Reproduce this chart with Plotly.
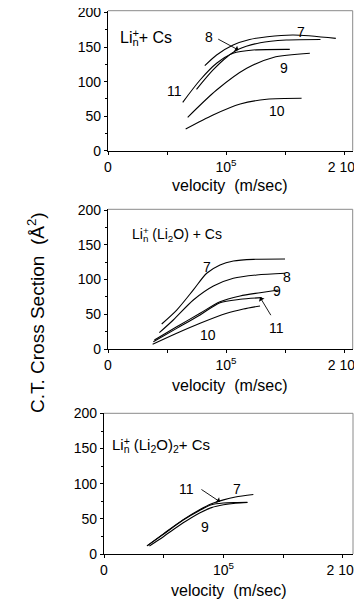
import plotly.graph_objects as go

FONT = "Liberation Sans, Arial, sans-serif"

# ---------------- data (velocity in units of 1e5 m/s, cross section in A^2)
p1 = {
    "7":  ([0.82, 0.92, 1.06, 1.20, 1.35, 1.57, 1.93], [123, 138.5, 153, 161, 165, 167.4, 162.6]),
    "8":  ([0.75, 0.89, 1.01, 1.105, 1.29, 1.51, 1.80], [88.8, 116.8, 136, 146.7, 156.3, 160.2, 161]),
    "11": ([0.633, 0.78, 0.92, 1.06, 1.23, 1.54], [70, 102.3, 126.5, 141, 145.7, 146.7]),
    "9":  ([0.675, 0.92, 1.175, 1.40, 1.71], [48.3, 87.8, 119.2, 135, 141]),
    "10": ([0.658, 0.89, 1.12, 1.345, 1.64], [31.4, 51.7, 67.6, 74.4, 75.8]),
}
p2 = {
    "7":  ([0.455, 0.582, 0.723, 0.836, 0.949, 1.062, 1.232, 1.5], [36, 56, 85, 109, 121, 126.6, 129, 129.5]),
    "8":  ([0.435, 0.553, 0.723, 0.893, 1.062, 1.26, 1.5], [23.5, 41.7, 70.5, 90.6, 101.7, 106.5, 108.9]),
    "9":  ([0.393, 0.582, 0.78, 0.949, 1.119, 1.288, 1.443], [13, 32, 51.4, 68, 76.3, 81, 85]),
    "11": ([0.384, 0.582, 0.78, 0.949, 1.119, 1.302], [10.5, 29.7, 49, 66.7, 71.5, 73.9]),
    "10": ([0.378, 0.582, 0.78, 1.006, 1.147, 1.288], [6.7, 22.6, 37, 51.4, 57.5, 61.9]),
}
p3 = {
    "7":  ([0.36, 0.5, 0.66, 0.8, 0.9, 1.0, 1.1, 1.25], [11.5, 29, 48.5, 63, 71.5, 77, 81, 84.6]),
    "11": ([0.36, 0.5, 0.66, 0.8, 0.9, 1.0, 1.1, 1.2], [11.5, 28.5, 48, 62, 70, 72.5, 73.2, 73.5]),
    "9":  ([0.38, 0.5, 0.66, 0.8, 0.9, 1.0, 1.1, 1.2], [11.5, 25, 44, 58.5, 66, 70, 72.3, 73.3]),
}

# curve labels: (text, v, y)
lab1 = [("7", 1.636, 172), ("8", 0.856, 164), ("11", 0.562, 87), ("9", 1.494, 119), ("10", 1.43, 57.5)]
lab2 = [("7", 0.836, 118), ("8", 1.514, 103), ("9", 1.435, 84), ("11", 1.43, 30.7), ("10", 0.85, 20)]
lab3 = [("11", 0.69, 93), ("7", 1.11, 93), ("9", 0.845, 38.7)]
# arrows: (tail v, tail y, tip v, tip y)
arr1 = [(0.921, 162.6, 1.105, 145.7)]
arr2 = [(1.387, 46.5, 1.288, 74.4)]
arr3 = [(0.803, 93.2, 0.971, 74.2)]

x_tickvals = [0, 0.5e5, 1e5, 1.5e5, 2e5]
x_ticktext = ["0", "", "10<sup>5</sup>", "", "2 10<sup>5</sup>"]
y_tickvals = [0, 50, 100, 150, 200]

titles = [
    ("Li<sub>n</sub>+ Cs", 0.085e5, 163, 16),
    ("Li<sub>n</sub> (Li<sub>2</sub>O) + Cs", 0.186e5, 164, 14),
    ("Li<sub>n</sub> (Li<sub>2</sub>O)<sub>2</sub>+ Cs", 0.05e5, 154.6, 15),
]

# page body has an 8px margin: figure occupies window pixels 8..362 x 8..612
OFF = 8
W, H = 362 - OFF, 612 - OFF


def px(x):
    return (x - OFF) / W


def py(y):
    return 1 - (y - OFF) / H


panels = [
    dict(data=p1, labs=lab1, arrs=arr1, xdom=[px(108), px(352.7)], xmax=2.073e5,
         ydom=[py(150.7), py(10.7)], ymax=202.6, title_y=py(185)),
    dict(data=p2, labs=lab2, arrs=arr2, xdom=[px(108), px(352.7)], xmax=2.073e5,
         ydom=[py(349), py(209.3)], ymax=201, title_y=py(385)),
    dict(data=p3, labs=lab3, arrs=arr3, xdom=[px(104), px(353)], xmax=2.084e5,
         ydom=[py(554), py(413.3)], ymax=200.2, title_y=py(590)),
]

fig = go.Figure()
annotations = []
shapes = []
layout = {}

for i, p in enumerate(panels):
    n = i + 1
    xa = "x" if n == 1 else f"x{n}"
    ya = "y" if n == 1 else f"y{n}"
    for name, (v, y) in p["data"].items():
        fig.add_trace(go.Scatter(
            x=[a * 1e5 for a in v], y=y, mode="lines", name=name,
            line=dict(color="black", width=1.1, shape="spline", smoothing=0.8),
            xaxis=xa, yaxis=ya, showlegend=False, hoverinfo="skip"))
    for t, v, y in p["labs"]:
        annotations.append(dict(text=t, x=v * 1e5, y=y, xref=xa, yref=ya,
                                showarrow=False, font=dict(family=FONT, size=14, color="black")))
    for tv, ty, hv, hy in p["arrs"]:
        annotations.append(dict(text="", x=hv * 1e5, y=hy, ax=tv * 1e5, ay=ty,
                                xref=xa, yref=ya, axref=xa, ayref=ya, showarrow=True,
                                arrowhead=1, arrowsize=1.2, arrowwidth=0.9, arrowcolor="black"))
    # panel title with stacked superscript
    t, tv, ty, fs = titles[i]
    annotations.append(dict(text=t, x=tv, y=ty, xref=xa, yref=ya, xanchor="left",
                            showarrow=False, font=dict(family=FONT, size=fs, color="black")))
    annotations.append(dict(text='<span style="color:rgba(0,0,0,0)">Li</span><sup>+</sup>',
                            x=tv, y=ty, xref=xa, yref=ya, xanchor="left", yshift=1,
                            showarrow=False, font=dict(family=FONT, size=fs, color="black")))
    # axis title
    annotations.append(dict(text="velocity  (m/sec)", x=(p["xdom"][0] + p["xdom"][1]) / 2,
                            y=p["title_y"], xref="paper", yref="paper", showarrow=False,
                            yanchor="middle", font=dict(family=FONT, size=16, color="black")))
    # gray top / right frame
    shapes.append(dict(type="line", xref=f"{xa} domain", yref=f"{ya} domain",
                       x0=0, x1=1, y0=1, y1=1, line=dict(color="#8a8a8a", width=1)))
    shapes.append(dict(type="line", xref=f"{xa} domain", yref=f"{ya} domain",
                       x0=1, x1=1, y0=0, y1=1, line=dict(color="#8a8a8a", width=1)))

    xkey = "xaxis" if n == 1 else f"xaxis{n}"
    ykey = "yaxis" if n == 1 else f"yaxis{n}"
    layout[xkey] = dict(domain=p["xdom"], range=[0, p["xmax"]], anchor=ya, automargin=False,
                        tickvals=x_tickvals, ticktext=x_ticktext, ticks="outside",
                        ticklen=3, tickwidth=1, tickcolor="black", showline=True,
                        linecolor="black", linewidth=1.3, showgrid=False, zeroline=False,
                        ticklabeloverflow="allow",
                        tickfont=dict(family=FONT, size=14, color="black"))
    layout[ykey] = dict(domain=p["ydom"], range=[0, p["ymax"]], anchor=xa, automargin=False,
                        tickvals=y_tickvals, ticks="outside", ticklen=3, tickwidth=1,
                        tickcolor="black", showline=True, linecolor="black", linewidth=1.3,
                        showgrid=False, zeroline=False, ticklabeloverflow="allow",
                        minor=dict(tickvals=[25, 75, 125, 175], ticks="outside", ticklen=2,
                                   tickcolor="black"),
                        tickfont=dict(family=FONT, size=14, color="black"))

annotations.append(dict(text="C.T. Cross Section  (Å<sup>2</sup>)", x=px(36), y=py(313),
                        xref="paper", yref="paper", textangle=-90, showarrow=False,
                        xanchor="center", yanchor="middle",
                        font=dict(family=FONT, size=19, color="black")))

fig.update_layout(width=W, height=H, margin=dict(l=0, r=0, t=0, b=0, autoexpand=False),
                  paper_bgcolor="white", plot_bgcolor="white",
                  annotations=annotations, shapes=shapes, **layout)

fig.write_html("out.html")
